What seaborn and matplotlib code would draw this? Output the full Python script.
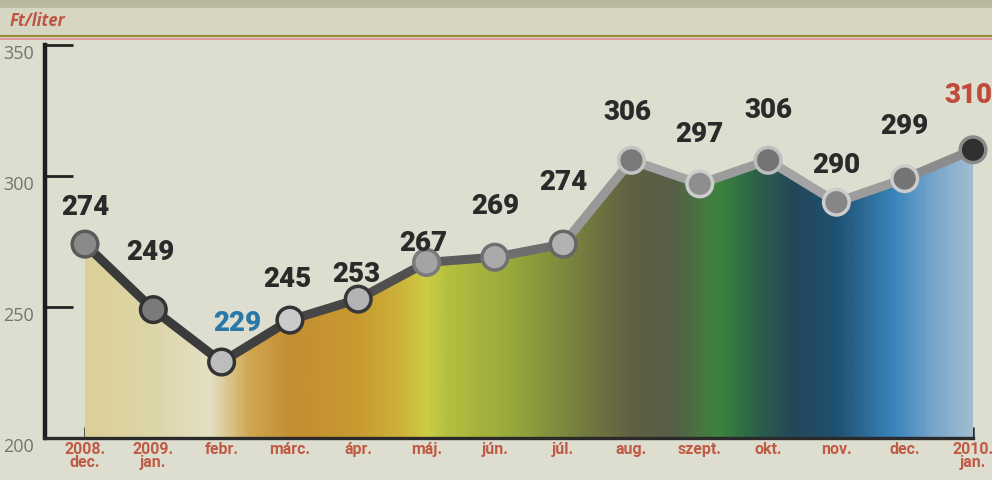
import numpy as np
import matplotlib.pyplot as plt
import seaborn as sns
from matplotlib.colors import LinearSegmentedColormap
from matplotlib.transforms import ScaledTranslation

# Data (fuel price, Ft/liter)
months = ["2008.\ndec.", "2009.\njan.", "febr.", "márc.", "ápr.", "máj.", "jún.",
          "júl.", "aug.", "szept.", "okt.", "nov.", "dec.", "2010.\njan."]
prices = [274, 249, 229, 245, 253, 267, 269, 274, 306, 297, 306, 290, 299, 310]
y_ticks = [200, 250, 300, 350]
unit_label = "Ft/liter"

# label offsets in pixels (dx, dy) relative to each point
label_dx = [0, -3, 16, -3, -2, -3, 0, 0, -4, 0, 0, 0, 0, -5]
label_dy = [37, 57, 39, 41, 25, 19, 51, 62, 48, 49, 50, 37, 52, 54]

# styling
paper = "#dddecf"
seg_colors = ["#3a3a3a", "#3a3a3a", "#404040", "#464646", "#505050", "#5c5c5c",
              "#6e6e6e", "#999999", "#a4a4a4", "#9c9c9c", "#a4a4a4", "#9c9c9c", "#8c8c8c"]
face_colors = ["#8a8a8a", "#7a7a7a", "#bdbdbd", "#cacaca", "#b4b4b4", "#a4a4a4", "#aaaaaa",
               "#b2b2b2", "#7a7a7a", "#8e8e8e", "#747474", "#868686", "#747474", "#303030"]
edge_colors = ["#5a5a5a", "#333333", "#333333", "#333333", "#383838", "#7a7a7a", "#707070",
               "#666666", "#c4c4c4", "#cccccc", "#bdbdbd", "#cccccc", "#cccccc", "#8a8a8a"]
stops = [(0.0, "#dcd098"), (1.0, "#ddd6a8"), (1.8, "#e4e0c4"), (2.4, "#cfa650"),
         (3.0, "#c48e30"), (4.0, "#c89a30"), (4.6, "#ccb23a"), (5.0, "#cccc44"),
         (5.3, "#b4c040"), (6.3, "#96a63a"), (7.2, "#788040"), (8.0, "#606042"),
         (8.6, "#585e48"), (9.3, "#3c843e"), (9.9, "#2a5e4a"), (10.4, "#24485a"),
         (11.0, "#1e5070"), (11.9, "#3a86bc"), (12.5, "#7aa8cc"), (13.0, "#a0bcd0")]

sns.set_theme(style="white")
plt.rcParams['font.family'] = ['Roboto', 'DejaVu Sans']

fig = plt.figure(figsize=(9.92, 4.8), dpi=100)
fig.patch.set_facecolor(paper)
ax = fig.add_axes([45 / 992, 42 / 480, 928 / 992, 393 / 480])
ax.set_facecolor(paper)

x = np.arange(len(prices))
n = len(prices) - 1

# gradient fill under the line
cmap = LinearSegmentedColormap.from_list("fill", [(p / stops[-1][0], c) for p, c in stops])
grad = cmap(np.linspace(0, 1, 600))[None, :, :]
poly = ax.fill_between(x, prices, 200, color="none", lw=0)
im = ax.imshow(grad, extent=[0, n, 200, 350], aspect="auto", origin="lower", zorder=1)
im.set_clip_path(poly.get_paths()[0], ax.transData)

# line segments with changing grey
for i in range(n):
    sns.lineplot(x=x[i:i + 2], y=prices[i:i + 2], color=seg_colors[i], lw=6.5,
                 solid_capstyle="round", ax=ax, zorder=3)

ax.scatter(x, prices, s=340, c=face_colors, edgecolors=edge_colors, linewidths=2.5,
           zorder=4, clip_on=False)

# value labels
lo = int(np.argmin(prices))
for i, v in enumerate(prices):
    col = "#2a2a2a"
    if i == lo:
        col = "#2a78a8"
    elif i == n:
        col = "#c24a3a"
    ax.annotate(str(v), (x[i], v), xytext=(label_dx[i], label_dy[i]),
                textcoords="offset pixels", ha="center", va="center",
                fontsize=20, fontweight="heavy", color=col, zorder=5,
                annotation_clip=False)

ax.set_xlim(-40 / 68.3, n)
ax.set_ylim(200, 350)

for side in ["top", "right"]:
    ax.spines[side].set_visible(False)
ax.spines["left"].set_linewidth(3.2)
ax.spines["left"].set_color("#1e1e1e")
ax.spines["bottom"].set_linewidth(2.4)
ax.spines["bottom"].set_color("#2a2a2a")

ax.set_yticks(y_ticks)
ax.set_yticklabels([str(t) for t in y_ticks])
ax.tick_params(axis="y", direction="in", length=20, width=2, color="#222222",
               pad=8, labelsize=13, labelcolor="#74746e", left=True)
for lab in ax.get_yticklabels():
    lab.set_fontfamily(["Open Sans", "DejaVu Sans"])
    lab.set_transform(lab.get_transform() + ScaledTranslation(0, -0.07, fig.dpi_scale_trans))

ax.set_xticks(x)
ax.set_xticklabels(months, linespacing=0.8)
ax.tick_params(axis="x", direction="in", length=8, width=1.8, color="#2a2a2a",
               pad=3, labelsize=11.5, labelcolor="#bf5a45", bottom=True)
for lab in ax.get_xticklabels():
    lab.set_fontweight("bold")

# header band
fig.patches.append(plt.Rectangle((0, 1 - 8 / 480), 1, 8 / 480, transform=fig.transFigure,
                                 color="#b9b9a2", zorder=0))
fig.patches.append(plt.Rectangle((0, 1 - 36 / 480), 1, 28 / 480, transform=fig.transFigure,
                                 color="#d6d6c2", zorder=0))
fig.add_artist(plt.Line2D([0, 1], [1 - 36 / 480] * 2, transform=fig.transFigure,
                          color="#9c8c3a", lw=1.6))
fig.add_artist(plt.Line2D([0, 1], [1 - 38.5 / 480] * 2, transform=fig.transFigure,
                          color="#e08a98", lw=1.2))
fig.text(10 / 992, 1 - 21 / 480, unit_label, ha="left", va="center", fontsize=12,
         fontweight="bold", fontstyle="italic", color="#c05444",
         family=["Open Sans", "DejaVu Sans"])

fig.savefig("out.png", dpi=100, facecolor=fig.get_facecolor())
